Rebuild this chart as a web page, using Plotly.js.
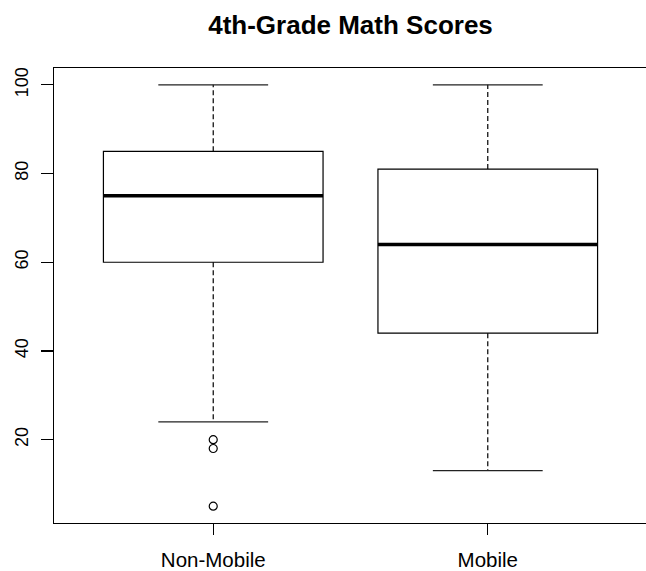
<!DOCTYPE html>
<html>
<head>
<meta charset="utf-8">
<script src="https://cdn.plot.ly/plotly-3.0.1.min.js"></script>
<style>
html,body{margin:0;padding:0;background:#fff;overflow:hidden;}
#chart{width:648px;height:571px;}
</style>
</head>
<body>
<div id="chart"></div>
<script>
// ---- data ----
var categories = ["Non-Mobile", "Mobile"];
var lowerWhisker = [24, 13];
var q1 = [60, 44];
var median = [75, 64];
var q3 = [85, 81];
var upperWhisker = [100, 100];
var outlierGroup = [0, 0, 0];
var outlierValues = [20, 18, 5];
var yTicks = [20, 40, 60, 80, 100];

// ---- build traces ----
var pos = categories.map(function (c, i) { return i; });
var boxHalf = 0.4, capHalf = 0.2;

var boxTrace = {
  type: "box",
  x: pos,
  q1: q1, median: median, q3: q3,
  lowerfence: q1, upperfence: q3,
  width: 2 * boxHalf,
  whiskerwidth: 0,
  fillcolor: "#ffffff",
  line: {color: "#000000", width: 1.2},
  boxpoints: false,
  hoverinfo: "skip",
  showlegend: false
};

var wx = [], wy = [];
pos.forEach(function (p, i) {
  wx.push(p, p, null, p, p, null);
  wy.push(q3[i], upperWhisker[i], null, q1[i], lowerWhisker[i], null);
});
var whiskerTrace = {
  type: "scatter", mode: "lines", x: wx, y: wy,
  line: {color: "#000000", width: 1.2, dash: "5px,3px"},
  hoverinfo: "skip", showlegend: false
};

var cx = [], cy = [];
pos.forEach(function (p, i) {
  cx.push(p - capHalf, p + capHalf, null, p - capHalf, p + capHalf, null);
  cy.push(upperWhisker[i], upperWhisker[i], null, lowerWhisker[i], lowerWhisker[i], null);
});
var capTrace = {
  type: "scatter", mode: "lines", x: cx, y: cy,
  line: {color: "#222222", width: 1.2},
  hoverinfo: "skip", showlegend: false
};

var mx = [], my = [];
pos.forEach(function (p, i) {
  mx.push(p - boxHalf, p + boxHalf, null);
  my.push(median[i], median[i], null);
});
var medianTrace = {
  type: "scatter", mode: "lines", x: mx, y: my,
  line: {color: "#000000", width: 3.5},
  hoverinfo: "skip", showlegend: false
};

var outlierTrace = {
  type: "scatter", mode: "markers",
  x: outlierGroup.map(function (g) { return pos[g]; }),
  y: outlierValues,
  marker: {symbol: "circle-open", size: 8, color: "#000000", line: {width: 1.2, color: "#000000"}},
  hoverinfo: "skip", showlegend: false
};

var fontFam = "Liberation Sans, Arial, Helvetica, sans-serif";

var layout = {
  width: 648, height: 571,
  margin: {l: 54, r: 1, t: 68, b: 48},
  paper_bgcolor: "#ffffff",
  plot_bgcolor: "#ffffff",
  title: {
    text: "<b>4th-Grade Math Scores</b>",
    font: {family: fontFam, size: 26, color: "#000000"},
    x: 0.5, xanchor: "center",
    y: 1 - 25 / 571, yanchor: "middle",
    xref: "paper", yref: "container"
  },
  xaxis: {
    range: [-0.58, 1.58],
    tickvals: pos,
    ticktext: categories,
    showgrid: false, zeroline: false,
    showline: true, mirror: true, linecolor: "#000000", linewidth: 1.2,
    ticks: "outside", ticklen: 11, tickcolor: "#000000", tickwidth: 1.2,
    ticklabelstandoff: 7,
    tickfont: {family: fontFam, size: 20.5, color: "#000000"}
  },
  yaxis: {
    range: [1.2, 103.8],
    tickvals: yTicks,
    ticktext: yTicks.map(String),
    tickangle: -90,
    showgrid: false, zeroline: false,
    showline: true, mirror: false, linecolor: "#000000", linewidth: 1.2,
    ticks: "outside", ticklen: 12, tickcolor: "#000000", tickwidth: 1.2,
    ticklabelstandoff: 6,
    tickfont: {family: fontFam, size: 18, color: "#000000"}
  }
};

Plotly.newPlot("chart", [boxTrace, whiskerTrace, capTrace, medianTrace, outlierTrace], layout, {displayModeBar: false, staticPlot: true});
</script>
</body>
</html>
